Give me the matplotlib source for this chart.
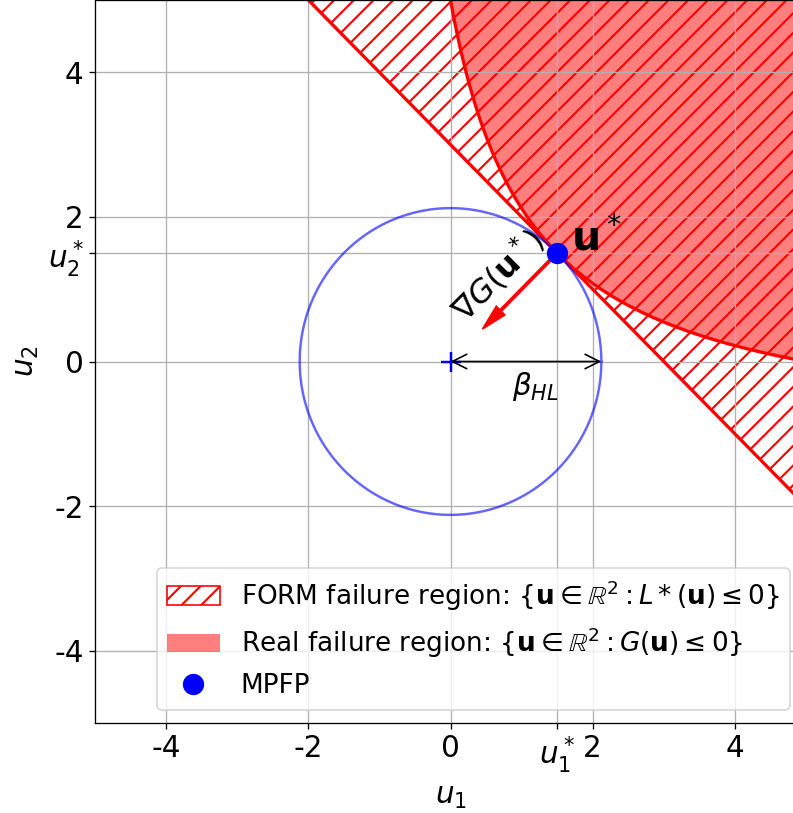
import numpy as np
import matplotlib
matplotlib.use("Agg")
import matplotlib.pyplot as plt

plt.rcParams['hatch.linewidth'] = 1.3

# ---- data / parameters ----
mpfp = [1.5, 1.5]                       # u* (most probable failure point)
beta_hl = float(np.hypot(*mpfp))        # radius of circle = |u*|
form_sum = mpfp[0] + mpfp[1]            # FORM line: u1 + u2 = 3
g_shift = 1.125                         # G(u) = (u1+a)(u2+a) - c
g_const = (mpfp[0] + g_shift) * (mpfp[1] + g_shift)
grad_end = [0.45, 0.45]                 # tip of gradient arrow

xticks = [-4, -2, 0, 1.5, 2, 4]
xticklabels = ['-4', '-2', '0', r'$u_1^*$', '2', '4']
yticks = [-4, -2, 0, 1.5, 2, 4]
yticklabels = ['-4', '-2', '0', r'$u_2^*$', '2', '4']

DPI = 118
fig = plt.figure(figsize=(793 / DPI, 813 / DPI), dpi=DPI)
ax = fig.add_axes([95 / 793, 90 / 813, (806 - 95) / 793, 723 / 813])

# FORM failure region (hatched half-plane)
xs = np.linspace(-7, 7, 400)
form_lab = r'FORM failure region: $\{\mathbf{u} \in \mathbb{R}^2: L*(\mathbf{u}) \leq 0\}$'
ax.fill_between(xs, form_sum - xs, 12, facecolor='none', edgecolor='red',
                hatch='//', linewidth=1, label=form_lab)
ax.plot(xs, form_sum - xs, color='red', lw=2)

# Real failure region
xr = np.linspace(g_const / (12 + g_shift) - g_shift, 7, 800)
yr = g_const / (xr + g_shift) - g_shift
real_lab = r'Real failure region: $\{\mathbf{u} \in \mathbb{R}^2: G(\mathbf{u}) \leq 0\}$'
ax.fill_between(xr, yr, 12, facecolor='red', alpha=0.5, linewidth=0, label=real_lab)
ax.plot(xr, yr, color='red', lw=2)

# circle of radius beta
t = np.linspace(0, 2 * np.pi, 400)
ax.plot(beta_hl * np.cos(t), beta_hl * np.sin(t), color='blue', alpha=0.6, lw=1.5)

# origin marker
ax.plot([0], [0], marker='+', color='blue', markersize=12, mew=1.5, ls='none')

# beta arrow
ax.annotate('', xy=(beta_hl, 0), xytext=(0, 0),
            arrowprops=dict(arrowstyle='<->', color='black', lw=1,
                            shrinkA=0, shrinkB=0, mutation_scale=22))
ax.text(beta_hl / 2 + 0.13, -0.12, r'$\beta_{HL}$', fontsize=18, ha='center', va='top')

# gradient arrow
ax.arrow(mpfp[0], mpfp[1], grad_end[0] - mpfp[0], grad_end[1] - mpfp[1],
         width=0.03, head_width=0.17, head_length=0.36, length_includes_head=True,
         color='red', zorder=5)
ax.text(0.66, 1.2, r'$\nabla G(\mathbf{u}^*)$', fontsize=19.5, rotation=45,
        ha='center', va='center', rotation_mode='anchor')

# MPFP
ax.plot([mpfp[0]], [mpfp[1]], 'o', color='blue', markersize=12, zorder=6, label='MPFP')
ax.text(1.7, 1.53, r'$\mathbf{u}^*$', fontsize=25, ha='left', va='baseline')

ax.set_xlim(-5, 5)
ax.set_ylim(-5, 5)
ax.set_xticks(xticks)
ax.set_xticklabels(xticklabels)
ax.set_yticks(yticks)
ax.set_yticklabels(yticklabels)
ax.tick_params(labelsize=18)
ax.grid(True)
ax.set_xlabel(r'$u_1$', fontsize=18)
ax.set_ylabel(r'$u_2$', fontsize=18)

ax.legend(loc='lower right', bbox_to_anchor=(0.977, 0.018), borderaxespad=0,
          fontsize=16)

fig.savefig('out.png', dpi=DPI)
